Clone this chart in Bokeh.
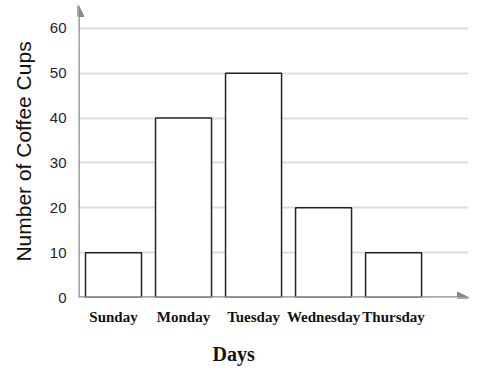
from bokeh.plotting import figure
from bokeh.models import Arrow, NormalHead, FixedTicker, Title, Range1d
from bokeh.embed import file_html
from bokeh.resources import INLINE

categories = ["Sunday", "Monday", "Tuesday", "Wednesday", "Thursday"]
cups = [10, 40, 50, 20, 10]
y_ticks = [0, 10, 20, 30, 40, 50, 60]

positions = [i + 0.5 for i in range(len(categories))]

X_END = 5.57
Y_END = 65.1

p = figure(frame_width=390, frame_height=292, x_range=Range1d(0, X_END), y_range=Range1d(0, Y_END),
           output_backend="svg", toolbar_location=None,
           min_border_left=78, min_border_right=10, min_border_top=5, min_border_bottom=71)
p.outline_line_color = None
p.background_fill_color = "white"

p.vbar(x=positions, top=cups, width=0.8, bottom=0, fill_color="white",
       line_color="#222222", line_width=1.5)

# axes
p.xaxis.ticker = FixedTicker(ticks=positions)
p.xaxis.major_label_overrides = {pos: c for pos, c in zip(positions, categories)}
p.xaxis.major_label_text_font = "Liberation Serif"
p.xaxis.major_label_text_font_style = "bold"
p.xaxis.major_label_text_font_size = "15px"
p.xaxis.major_label_text_color = "#111111"
p.xaxis.major_label_standoff = 5
p.xaxis.axis_line_color = None
p.xaxis.major_tick_line_color = None
p.xaxis.minor_tick_line_color = None
p.xgrid.grid_line_color = None

p.yaxis.ticker = FixedTicker(ticks=y_ticks)
p.yaxis.major_label_text_font = "Liberation Sans"
p.yaxis.major_label_text_font_size = "15px"
p.yaxis.major_label_text_color = "#222233"
p.yaxis.major_label_standoff = 6
p.yaxis.axis_line_color = None
p.yaxis.major_tick_line_color = None
p.yaxis.minor_tick_line_color = None
p.yaxis.axis_label = "Number of Coffee Cups"
p.yaxis.axis_label_text_font = "Liberation Sans"
p.yaxis.axis_label_text_font_style = "normal"
p.yaxis.axis_label_text_font_size = "21px"
p.yaxis.axis_label_text_color = "#111111"
p.yaxis.axis_label_standoff = 12
p.ygrid.ticker = FixedTicker(ticks=y_ticks)
p.ygrid.grid_line_color = "#dddddd"
p.ygrid.grid_line_width = 2

# axis arrows
p.add_layout(Arrow(end=NormalHead(size=11, fill_color="#888888", line_color="#888888"),
                   x_start=0, y_start=0, x_end=0, y_end=Y_END,
                   line_color="#888888", line_width=2.5))
p.add_layout(Arrow(end=NormalHead(size=11, fill_color="#888888", line_color="#888888"),
                   x_start=0, y_start=0, x_end=X_END, y_end=0,
                   line_color="#888888", line_width=2.5))

p.add_layout(Title(text="Days", align="left", offset=134, standoff=27,
                   text_font="Liberation Serif", text_font_style="bold", text_font_size="20px",
                   text_color="#111111"), "below")

open("out.html", "w").write(file_html(p, INLINE))
